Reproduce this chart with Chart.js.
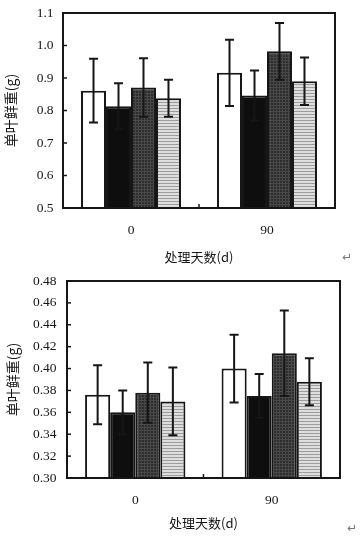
<!DOCTYPE html>
<html>
<head>
<meta charset="utf-8">
<script src="https://cdn.jsdelivr.net/npm/chart.js@4/dist/chart.umd.min.js"></script>
<style>
  body { margin: 0; background: #fff; }
  canvas { position: absolute; left: 0; }
  #chart-top { top: 0; }
  #chart-bottom { top: 268px; }
  .mark { position: absolute; font: 12px "DejaVu Sans", sans-serif; color: #777; }
</style>
</head>
<body>
<canvas id="chart-top" width="361" height="268"></canvas>
<canvas id="chart-bottom" width="361" height="268"></canvas>
<span class="mark" style="left:342px; top:250px;">↵</span>
<span class="mark" style="left:347px; top:521px;">↵</span>
<script>
// categories: days of treatment
var days = ['0', '90'];

// top chart: fresh weight per leaf (g), four treatments
var topWhite = [0.861, 0.916];
var topBlack = [0.813, 0.846];
var topDark = [0.871, 0.982];
var topLight = [0.838, 0.890];
var topWhiteErr = [0.098, 0.102];
var topBlackErr = [0.071, 0.077];
var topDarkErr = [0.090, 0.087];
var topLightErr = [0.057, 0.073];
var topTicks = [0.5, 0.6, 0.7, 0.8, 0.9, 1.0, 1.1];

// bottom chart
var botWhite = [0.376, 0.400];
var botBlack = [0.360, 0.375];
var botDark = [0.378, 0.414];
var botLight = [0.370, 0.388];
var botWhiteErr = [0.027, 0.031];
var botBlackErr = [0.020, 0.020];
var botDarkErr = [0.0275, 0.039];
var botLightErr = [0.031, 0.0215];
var botTicks = [0.30, 0.32, 0.34, 0.36, 0.38, 0.40, 0.42, 0.44, 0.46, 0.48];

var yTitle = '单叶鲜重(g)';
var xTitle = '处理天数(d)';
var INK = '#161616';

function makePattern(w, h, draw) {
    var c = document.createElement('canvas');
    c.width = w;
    c.height = h;
    var ctx = c.getContext('2d');
    draw(ctx);
    return document.createElement('canvas').getContext('2d').createPattern(c, 'repeat');
}

var darkFill = makePattern(3, 3, function(ctx) {
    ctx.fillStyle = '#2e2e2e';
    ctx.fillRect(0, 0, 3, 3);
    ctx.fillStyle = '#484848';
    ctx.fillRect(0, 0, 3, 1);
    ctx.fillRect(0, 0, 1, 3);
});

var lightFill = makePattern(4, 3, function(ctx) {
    ctx.fillStyle = '#dedede';
    ctx.fillRect(0, 0, 4, 3);
    ctx.fillStyle = '#9c9c9c';
    ctx.fillRect(0, 0, 4, 1);
});

// error bars, inner ticks and the closed frame
var framePlugin = {
    id: 'frame',
    afterDatasetsDraw: function(chart) {
        var ctx = chart.ctx;
        var area = chart.chartArea;
        var y = chart.scales.y;
        var x = chart.scales.x;
        ctx.save();
        ctx.strokeStyle = INK;
        ctx.lineWidth = 2;
        chart.data.datasets.forEach(function(ds, i) {
            var meta = chart.getDatasetMeta(i);
            meta.data.forEach(function(bar, j) {
                var hi = y.getPixelForValue(ds.data[j] + ds.err[j]);
                var lo = y.getPixelForValue(ds.data[j] - ds.err[j]);
                ctx.beginPath();
                ctx.moveTo(bar.x, hi);
                ctx.lineTo(bar.x, lo);
                ctx.moveTo(bar.x - 4.5, hi);
                ctx.lineTo(bar.x + 4.5, hi);
                ctx.moveTo(bar.x - 4.5, lo);
                ctx.lineTo(bar.x + 4.5, lo);
                ctx.stroke();
            });
        });
        ctx.lineWidth = 1.5;
        y.ticks.forEach(function(t) {
            var py = y.getPixelForValue(t.value);
            ctx.beginPath();
            ctx.moveTo(area.left, py);
            ctx.lineTo(area.left + 4, py);
            ctx.stroke();
        });
        var mid = (x.getPixelForValue(0) + x.getPixelForValue(1)) / 2;
        ctx.beginPath();
        ctx.moveTo(mid, area.bottom);
        ctx.lineTo(mid, area.bottom - 4);
        ctx.stroke();
        ctx.lineWidth = 2;
        ctx.strokeRect(area.left, area.top, area.right - area.left, area.bottom - area.top);
        ctx.restore();
    }
};

function barSet(values, errs, fill) {
    return {
        data: values,
        err: errs,
        backgroundColor: fill,
        borderColor: INK,
        borderWidth: 2,
        borderSkipped: false,
        categoryPercentage: 0.735,
        barPercentage: 1.0
    };
}

function drawChart(id, sets, ticks, box) {
    var tickFont = {family: '"Liberation Serif", serif', size: 13.5};
    new Chart(document.getElementById(id), {
        type: 'bar',
        data: {labels: days, datasets: sets},
        plugins: [framePlugin],
        options: {
            responsive: false,
            animation: false,
            layout: {padding: {left: 0, right: box.right, top: box.top, bottom: 0}},
            plugins: {legend: {display: false}, tooltip: {enabled: false}},
            scales: {
                x: {
                    grid: {display: false, drawTicks: false},
                    border: {display: false},
                    ticks: {color: INK, font: tickFont, padding: box.xPad},
                    title: {display: true, text: xTitle, color: INK,
                            font: {family: '"Noto Sans CJK SC", sans-serif', size: 13, lineHeight: 1},
                            padding: {top: 0, bottom: box.xTitlePad}},
                    afterFit: function(s) {
                        s.height = box.xHeight;
                        s.paddingLeft = 0;
                        s.paddingRight = 0;
                    }
                },
                y: {
                    min: ticks[0],
                    max: ticks[ticks.length - 1],
                    afterBuildTicks: function(s) {
                        s.ticks = ticks.map(function(v) { return {value: v}; });
                    },
                    grid: {display: false, drawTicks: false},
                    border: {display: false},
                    ticks: {color: INK, font: tickFont, padding: box.yPad,
                            callback: function(v) { return v.toFixed(box.digits); }},
                    title: {display: true, text: yTitle, color: INK,
                            font: {family: '"Noto Sans CJK SC", sans-serif', size: 14, lineHeight: 1},
                            padding: {top: box.yTitlePad, bottom: 0}},
                    afterFit: function(s) {
                        s.width = box.yWidth;
                        s.paddingTop = 0;
                        s.paddingBottom = 0;
                    }
                }
            }
        }
    });
}

drawChart('chart-top', [
    barSet(topWhite, topWhiteErr, '#ffffff'),
    barSet(topBlack, topBlackErr, '#0e0e0e'),
    barSet(topDark, topDarkErr, darkFill),
    barSet(topLight, topLightErr, lightFill)
], topTicks, {right: 26, top: 13, yWidth: 63, xHeight: 60, xPad: 14, yPad: 9.5,
              xTitlePad: 4.5, yTitlePad: 4, digits: 1});

drawChart('chart-bottom', [
    barSet(botWhite, botWhiteErr, '#ffffff'),
    barSet(botBlack, botBlackErr, '#0e0e0e'),
    barSet(botDark, botDarkErr, darkFill),
    barSet(botLight, botLightErr, lightFill)
], botTicks, {right: 21, top: 13, yWidth: 67, xHeight: 58, xPad: 14, yPad: 10.5,
              xTitlePad: 6.5, yTitlePad: 6, digits: 2});
</script>
</body>
</html>
